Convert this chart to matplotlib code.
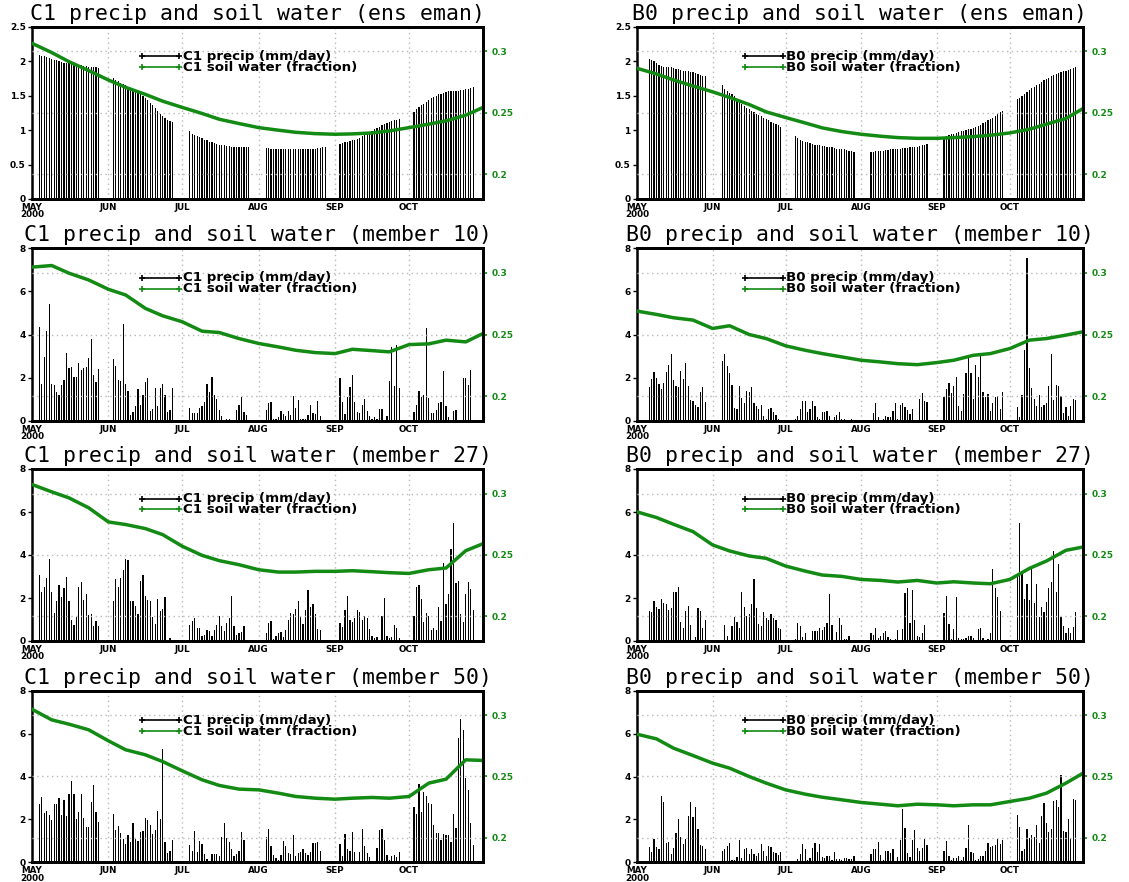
import numpy as np
import matplotlib.pyplot as plt

W, H = 1129, 882

MONTHS = ['MAY\n2000', 'JUN', 'JUL', 'AUG', 'SEP', 'OCT']
MONTH_START = [0, 31, 61, 92, 123, 153]
N_DAYS = 183

# first plotted day inside each month (days with no bar before it)
C1_FIRST = [3, 2, 3, 3, 2, 2]
B0_FIRST = [5, 4, 4, 4, 3, 3]

# soil water read at month starts and quarter points
SOIL_DAYS = [0, 8, 15, 23, 31, 38, 46, 53, 61, 69, 76, 84, 92, 100, 107, 115,
             123, 130, 138, 145, 153, 161, 168, 176, 183]

# ---------- ensemble mean ----------
C1_ENS_PRECIP = [
    [2.09, 2.08, 2.08, 2.06, 2.05, 2.03, 2.02, 2.01, 2.00, 1.99, 1.98, 1.98, 1.97,
     1.96, 1.95, 1.95, 1.94, 1.94, 1.93, 1.93, 1.92, 1.92, 1.91, 1.91, 1.90],
    [1.75, 1.73, 1.71, 1.69, 1.67, 1.65, 1.63, 1.61, 1.59, 1.57, 1.55, 1.52, 1.49,
     1.46, 1.43, 1.40, 1.36, 1.32, 1.28, 1.24, 1.20, 1.17, 1.15, 1.13, 1.12],
    [0.98, 0.95, 0.93, 0.92, 0.90, 0.88, 0.86, 0.85, 0.83, 0.82, 0.81, 0.80, 0.79,
     0.78, 0.78, 0.77, 0.77, 0.76, 0.76, 0.76, 0.75, 0.75, 0.75, 0.75, 0.75],
    [0.74, 0.74, 0.73, 0.73, 0.73, 0.73, 0.72, 0.73, 0.73, 0.73, 0.73, 0.73, 0.73,
     0.73, 0.73, 0.73, 0.73, 0.73, 0.73, 0.73, 0.73, 0.74, 0.74, 0.75, 0.75],
    [0.80, 0.81, 0.82, 0.83, 0.84, 0.85, 0.86, 0.87, 0.89, 0.91, 0.93, 0.95, 0.97,
     0.99, 1.01, 1.03, 1.05, 1.07, 1.09, 1.10, 1.12, 1.13, 1.14, 1.15, 1.16],
    [1.26, 1.30, 1.33, 1.36, 1.38, 1.41, 1.44, 1.46, 1.48, 1.50, 1.52, 1.53, 1.54,
     1.55, 1.56, 1.56, 1.57, 1.57, 1.57, 1.58, 1.58, 1.59, 1.60, 1.61, 1.62],
]
C1_ENS_SOIL = [0.3065, 0.2990, 0.2916, 0.2843, 0.2767, 0.2707, 0.2650, 0.2595,
               0.2544, 0.2495, 0.2448, 0.2413, 0.2380, 0.2359, 0.2342, 0.2331,
               0.2326, 0.2329, 0.2337, 0.2353, 0.2380, 0.2408, 0.2435, 0.2481, 0.2544]

B0_ENS_PRECIP = [
    [2.03, 2.01, 2.00, 1.97, 1.95, 1.93, 1.92, 1.92, 1.92, 1.91, 1.90, 1.89,
     1.88, 1.87, 1.85, 1.85, 1.85, 1.84, 1.84, 1.83, 1.82, 1.80, 1.79, 1.78],
    [1.65, 1.60, 1.57, 1.54, 1.52, 1.49, 1.45, 1.42, 1.38, 1.35, 1.32, 1.30, 1.28,
     1.26, 1.24, 1.22, 1.20, 1.18, 1.16, 1.14, 1.12, 1.10, 1.09, 1.07, 1.05],
    [0.91, 0.88, 0.86, 0.84, 0.83, 0.82, 0.81, 0.80, 0.79, 0.78, 0.78, 0.77, 0.77,
     0.76, 0.75, 0.75, 0.74, 0.73, 0.73, 0.72, 0.72, 0.71, 0.70, 0.69, 0.68],
    [0.68, 0.68, 0.69, 0.69, 0.70, 0.70, 0.71, 0.71, 0.72, 0.72, 0.72, 0.73,
     0.73, 0.74, 0.74, 0.74, 0.75, 0.75, 0.76, 0.76, 0.77, 0.78, 0.79, 0.80],
    [0.90, 0.92, 0.93, 0.94, 0.95, 0.96, 0.97, 0.98, 0.99, 1.00, 1.01, 1.02, 1.03,
     1.05, 1.06, 1.08, 1.10, 1.12, 1.14, 1.16, 1.18, 1.20, 1.23, 1.26, 1.28],
    [1.45, 1.47, 1.49, 1.52, 1.55, 1.58, 1.61, 1.63, 1.65, 1.67, 1.70, 1.72, 1.74,
     1.76, 1.78, 1.80, 1.82, 1.83, 1.84, 1.85, 1.86, 1.87, 1.89, 1.90, 1.92],
]
B0_ENS_SOIL = [0.2862, 0.2816, 0.2767, 0.2718, 0.2671, 0.2625, 0.2568, 0.2508,
               0.2462, 0.2418, 0.2378, 0.2348, 0.2326, 0.2310, 0.2299, 0.2293,
               0.2293, 0.2299, 0.2307, 0.2318, 0.2337, 0.2367, 0.2408, 0.2454, 0.2535]

# ---------- member 10 ----------
C1_M10_PRECIP = [
    [4.35, 1.70, 2.95, 4.15, 5.40, 1.70, 1.65, 1.35, 1.20, 1.65, 1.90, 3.15, 2.45,
     2.50, 2.05, 2.05, 2.70, 2.35, 2.45, 2.50, 2.90, 3.80, 2.10, 1.80, 2.40],
    [2.85, 2.55, 1.90, 1.85, 4.50, 1.70, 1.40, 0.25, 0.40, 0.70, 1.45, 0.75, 1.20,
     1.80, 2.00, 0.45, 0.55, 1.50, 0.70, 1.50, 1.70, 1.20, 0.40, 0.50, 1.50],
    [0.60, 0.35, 0.35, 0.35, 0.60, 0.70, 0.85, 1.70, 1.35, 2.05, 1.20, 1.00, 0.50,
     0.20, 0.05, 0.10, 0.10, 0.00, 0.00, 0.50, 0.75, 1.10, 0.40, 0.25, 0.05],
    [0.50, 0.80, 0.85, 0.10, 0.10, 0.15, 0.45, 0.30, 0.20, 0.45, 0.25, 1.15, 0.60,
     0.95, 0.10, 0.10, 0.10, 0.25, 0.75, 0.35, 0.30, 0.90, 0.20, 0.00, 0.00],
    [2.00, 0.85, 0.30, 1.10, 1.55, 2.10, 0.85, 0.40, 0.35, 0.75, 1.00, 0.45, 0.20,
     0.10, 0.15, 0.10, 0.55, 0.55, 0.00, 0.20, 1.85, 3.40, 1.60, 3.50, 1.50],
    [0.40, 0.75, 1.40, 1.10, 1.20, 4.30, 1.05, 0.35, 0.35, 0.50, 0.80, 0.85, 2.30,
     0.70, 0.15, 0.05, 0.45, 0.50, 0.00, 0.00, 2.00, 2.00, 1.65, 2.35, 0.00],
]
C1_M10_SOIL = [0.3047, 0.3060, 0.2998, 0.2943, 0.2867, 0.2821, 0.2712, 0.2652,
               0.2603, 0.2527, 0.2516, 0.2467, 0.2427, 0.2399, 0.2372, 0.2353,
               0.2345, 0.2380, 0.2369, 0.2359, 0.2418, 0.2424, 0.2454, 0.2440, 0.2508]

B0_M10_PRECIP = [
    [1.55, 1.95, 2.25, 2.00, 1.70, 1.45, 1.75, 2.25, 2.60, 3.10, 1.90, 1.60,
     1.55, 2.30, 1.95, 2.70, 1.60, 0.95, 0.90, 0.75, 0.65, 1.35, 1.55, 0.85],
    [2.75, 3.10, 2.55, 2.20, 1.65, 0.60, 0.55, 1.60, 1.05, 0.80, 1.40, 1.35, 1.55,
     0.80, 0.70, 0.55, 0.75, 0.20, 0.10, 0.55, 0.60, 0.40, 0.25, 0.10, 0.05],
    [0.10, 0.20, 0.55, 0.90, 0.90, 0.40, 0.55, 0.90, 0.70, 0.15, 0.10, 0.40, 0.40,
     0.45, 0.20, 0.05, 0.15, 0.25, 0.40, 0.10, 0.10, 0.05, 0.05, 0.10, 0.00],
    [0.05, 0.35, 0.80, 0.15, 0.05, 0.10, 0.20, 0.15, 0.15, 0.45, 0.80, 0.10,
     0.75, 0.80, 0.65, 0.50, 0.30, 0.55, 0.00, 0.05, 1.00, 1.30, 0.90, 0.85],
    [1.10, 1.45, 1.75, 1.30, 1.60, 2.05, 0.70, 0.45, 1.25, 2.20, 2.90, 2.20, 1.00,
     2.60, 2.05, 3.00, 1.35, 1.10, 1.25, 0.45, 0.80, 1.10, 1.15, 0.55, 1.35],
    [0.65, 0.15, 1.20, 3.30, 7.55, 2.45, 1.50, 1.00, 0.70, 1.20, 0.65, 0.75, 0.80,
     1.60, 3.10, 0.95, 1.65, 1.60, 1.15, 0.35, 0.65, 0.20, 0.70, 1.00, 0.95],
]
B0_M10_SOIL = [0.2690, 0.2663, 0.2636, 0.2617, 0.2549, 0.2571, 0.2500, 0.2467,
               0.2408, 0.2372, 0.2345, 0.2318, 0.2291, 0.2277, 0.2263, 0.2255,
               0.2272, 0.2291, 0.2331, 0.2345, 0.2386, 0.2454, 0.2467, 0.2495, 0.2522]

# ---------- member 27 ----------
C1_M27_PRECIP = [
    [3.05, 2.30, 2.50, 2.95, 3.80, 2.30, 1.30, 1.85, 2.60, 2.05, 2.45, 3.00, 1.85,
     1.00, 0.75, 1.10, 2.50, 2.75, 1.90, 2.20, 1.20, 1.25, 0.70, 0.95, 0.70],
    [1.85, 2.90, 2.50, 2.95, 3.30, 3.80, 3.75, 1.85, 1.85, 1.65, 1.25, 2.80, 3.05,
     2.10, 1.90, 1.85, 1.10, 0.80, 1.95, 1.40, 1.50, 2.05, 0.05, 0.15, 0.00],
    [0.75, 0.95, 1.05, 0.60, 0.60, 0.25, 0.30, 0.50, 0.45, 0.25, 0.50, 0.75, 1.15,
     0.70, 0.45, 0.85, 1.05, 2.10, 0.70, 0.30, 0.35, 0.40, 0.70, 0.00, 0.00],
    [0.35, 0.85, 0.95, 0.10, 0.25, 0.35, 0.40, 0.20, 0.50, 1.00, 1.30, 1.25, 1.50,
     1.85, 1.10, 0.80, 1.45, 2.35, 1.60, 1.70, 1.25, 0.55, 0.50, 0.00, 0.00],
    [0.85, 0.65, 1.45, 2.10, 1.00, 0.90, 1.05, 1.45, 1.35, 1.00, 1.15, 1.05, 0.55,
     0.25, 0.15, 0.20, 0.00, 1.15, 2.00, 0.25, 0.15, 0.20, 0.75, 0.60, 0.15],
    [1.15, 2.50, 2.60, 1.95, 0.90, 1.30, 1.15, 0.50, 0.60, 0.50, 1.60, 0.95, 3.65,
     1.70, 2.20, 4.30, 5.50, 2.70, 2.80, 1.25, 0.90, 2.20, 2.75, 2.40, 1.45],
]
C1_M27_SOIL = [0.3074, 0.3014, 0.2965, 0.2884, 0.2769, 0.2748, 0.2715, 0.2666,
               0.2571, 0.2497, 0.2454, 0.2421, 0.2380, 0.2361, 0.2361, 0.2367,
               0.2367, 0.2372, 0.2364, 0.2356, 0.2350, 0.2380, 0.2394, 0.2535, 0.2592]

B0_M27_PRECIP = [
    [1.40, 1.35, 1.85, 1.60, 1.50, 1.95, 1.75, 1.70, 1.45, 1.55, 2.30, 2.30,
     2.50, 0.90, 0.60, 1.40, 1.65, 0.75, 0.00, 0.20, 1.55, 1.40, 0.60, 1.00],
    [0.05, 0.75, 0.25, 0.05, 0.70, 1.10, 0.90, 0.60, 2.30, 1.60, 1.15, 1.25, 1.70,
     2.90, 1.55, 0.80, 0.70, 1.35, 1.05, 1.00, 1.25, 1.05, 1.00, 0.60, 0.55],
    [0.10, 0.85, 0.70, 0.20, 0.35, 0.00, 0.00, 0.45, 0.45, 0.45, 0.60, 0.50, 0.65,
     0.85, 2.20, 0.75, 0.05, 0.40, 1.05, 0.75, 0.10, 0.10, 0.25, 0.00, 0.00],
    [0.35, 0.30, 0.60, 0.15, 0.25, 0.35, 0.45, 0.20, 0.10, 0.05, 0.10, 0.50,
     0.00, 0.55, 2.25, 2.45, 0.85, 2.35, 1.00, 0.25, 0.20, 0.35, 0.75, 0.00],
    [1.30, 2.10, 0.80, 0.10, 0.55, 2.05, 0.15, 0.10, 0.10, 0.15, 0.25, 0.25, 0.15,
     0.00, 0.55, 0.60, 0.15, 0.00, 0.10, 0.35, 3.35, 2.45, 2.05, 1.40, 0.00],
    [3.00, 5.50, 3.10, 1.95, 2.65, 1.90, 3.50, 1.75, 2.65, 1.10, 1.60, 1.35, 1.80,
     2.45, 2.75, 4.20, 2.30, 3.60, 1.10, 0.70, 0.35, 0.60, 0.35, 0.65, 1.35],
]
B0_M27_SOIL = [0.2851, 0.2805, 0.2750, 0.2690, 0.2582, 0.2533, 0.2492, 0.2473,
               0.2410, 0.2369, 0.2337, 0.2326, 0.2301, 0.2293, 0.2280, 0.2293,
               0.2272, 0.2282, 0.2272, 0.2266, 0.2301, 0.2391, 0.2451, 0.2538, 0.2565]

# ---------- member 50 ----------
C1_M50_PRECIP = [
    [2.70, 3.05, 2.30, 2.40, 2.20, 1.95, 2.70, 2.70, 3.00, 2.20, 2.90, 2.15, 3.20,
     3.80, 3.20, 2.00, 2.35, 3.20, 2.05, 1.65, 1.65, 2.80, 3.60, 2.35, 1.90],
    [2.25, 1.50, 1.70, 1.35, 1.10, 0.85, 1.25, 0.95, 1.85, 1.10, 1.00, 1.40, 1.45,
     2.05, 1.95, 1.75, 1.30, 1.50, 2.40, 2.00, 5.30, 0.95, 0.45, 0.55, 1.05],
    [0.80, 0.55, 1.45, 0.50, 1.00, 0.85, 0.40, 0.15, 0.05, 0.40, 0.40, 0.40, 0.30,
     1.20, 1.85, 1.15, 0.95, 0.60, 0.30, 0.40, 0.55, 1.40, 1.05, 0.00, 0.00],
    [1.20, 1.55, 0.75, 0.35, 0.20, 0.10, 0.35, 1.00, 0.75, 0.45, 0.40, 1.25, 0.30,
     0.45, 0.50, 0.60, 0.45, 0.35, 0.50, 0.90, 0.90, 0.95, 0.55, 0.00, 0.00],
    [0.85, 0.30, 1.30, 0.60, 0.55, 1.40, 0.50, 0.05, 0.50, 1.55, 0.75, 0.45, 0.25,
     0.00, 0.00, 0.65, 1.50, 1.55, 1.05, 0.35, 0.10, 0.30, 0.35, 0.25, 0.50],
    [2.60, 2.25, 3.65, 2.35, 3.30, 3.10, 2.75, 2.70, 1.75, 1.35, 1.35, 1.05, 1.30,
     1.25, 1.25, 0.95, 2.25, 1.60, 5.80, 6.70, 6.15, 3.95, 3.35, 1.85, 0.80],
]
C1_M50_SOIL = [0.3049, 0.2962, 0.2927, 0.2881, 0.2791, 0.2718, 0.2677, 0.2622,
               0.2546, 0.2473, 0.2427, 0.2397, 0.2391, 0.2364, 0.2337, 0.2323,
               0.2315, 0.2323, 0.2329, 0.2323, 0.2337, 0.2446, 0.2478, 0.2636, 0.2631]

B0_M50_PRECIP = [
    [0.70, 0.50, 1.10, 0.70, 0.60, 3.10, 2.80, 0.90, 0.95, 0.40, 0.65, 1.35,
     2.00, 1.20, 0.85, 1.10, 2.15, 2.80, 2.10, 2.60, 1.55, 0.80, 0.75, 0.60],
    [0.55, 0.60, 0.75, 0.90, 0.10, 0.10, 0.25, 1.05, 0.20, 0.60, 0.65, 0.40, 0.60,
     0.40, 0.30, 0.45, 0.85, 0.55, 0.30, 0.75, 0.70, 0.50, 0.45, 0.35, 0.50],
    [0.05, 0.15, 0.40, 0.85, 0.60, 0.10, 0.20, 0.65, 0.90, 0.50, 0.85, 0.25, 0.20,
     0.30, 0.30, 0.10, 0.50, 0.15, 0.15, 0.10, 0.20, 0.20, 0.15, 0.15, 0.30],
    [0.40, 0.60, 0.60, 0.95, 0.35, 0.10, 0.55, 0.55, 0.45, 0.60, 0.00, 0.25,
     1.05, 2.50, 1.60, 0.45, 0.25, 1.05, 1.50, 0.65, 0.55, 0.65, 1.10, 0.80],
    [0.55, 1.00, 0.30, 0.10, 0.20, 0.20, 0.30, 0.10, 0.25, 0.65, 1.75, 0.50, 0.45,
     0.10, 0.15, 0.30, 0.30, 0.55, 0.90, 0.70, 0.75, 0.80, 1.10, 0.85, 1.05],
    [2.20, 1.65, 0.55, 0.60, 1.55, 1.15, 1.25, 1.20, 1.75, 0.90, 2.15, 2.75, 1.85,
     1.40, 1.55, 2.85, 2.90, 2.60, 4.05, 1.45, 1.40, 2.00, 1.15, 2.95, 2.90],
]
B0_M50_SOIL = [0.2845, 0.2807, 0.2731, 0.2671, 0.2609, 0.2568, 0.2500, 0.2446,
               0.2391, 0.2356, 0.2331, 0.2310, 0.2288, 0.2274, 0.2261, 0.2274,
               0.2269, 0.2261, 0.2269, 0.2269, 0.2296, 0.2323, 0.2364, 0.2446, 0.2527]

SOIL_LIM = (0.18, 0.32)
SOIL_TICKS = [0.2, 0.25, 0.3]
GREEN = '#138a13'
GRID = '#b8b8b8'
MONO = 'DejaVu Sans Mono'


def axes_rect(x0, x1, ytop, ybot):
    return [x0 / W, 1 - ybot / H, (x1 - x0) / W, (ybot - ytop) / H]


def draw_panel(fig, rect, model, tag, precip, first, soil, ytop, yticks, ylabels):
    ax = fig.add_axes(rect)
    for m, vals in enumerate(precip):
        days = MONTH_START[m] + first[m] + np.arange(len(vals))
        ax.bar(days, vals, width=0.5, color='black', linewidth=0)
    ax.set_xlim(0, N_DAYS)
    ax.set_ylim(0, ytop)
    ax.set_yticks(yticks)
    ax.set_yticklabels(ylabels)
    ax.set_xticks(MONTH_START)
    ax.set_xticklabels(MONTHS, linespacing=0.8)
    ax.tick_params(axis='y', labelsize=6.5, length=3, width=1, pad=1.5)
    ax.tick_params(axis='x', labelsize=6.3, length=0, pad=2.8)
    for t in ax.get_xticklabels() + ax.get_yticklabels():
        t.set_fontweight('bold')
    for d in MONTH_START[1:]:
        ax.axvline(d, color=GRID, lw=1, ls=(0, (1, 2.5)), zorder=0)
    for s in ['top', 'bottom', 'right']:
        ax.spines[s].set_linewidth(2)
    ax.spines['left'].set_linewidth(1.8)
    ax.spines['left'].set_linestyle((0, (1, 1)))

    ax2 = ax.twinx()
    ax2.plot(SOIL_DAYS, soil, color=GREEN, lw=2.5, solid_capstyle='round')
    ax2.set_ylim(*SOIL_LIM)
    ax2.set_yticks(SOIL_TICKS)
    ax2.set_yticklabels(['0.2', '0.25', '0.3'])
    ax2.tick_params(axis='y', colors=GREEN, labelsize=6.5, length=3, width=1.2, pad=3)
    for t in ax2.get_yticklabels():
        t.set_fontweight('bold')
    ax2.grid(axis='y', color=GRID, lw=1, ls=(0, (1, 2.5)))
    ax2.set_xlim(0, N_DAYS)
    for s in ['top', 'bottom', 'right']:
        ax2.spines[s].set_linewidth(2)
    ax2.spines['left'].set_visible(False)

    # legend drawn in axes fraction
    lx0, lx1, tx = 0.243, 0.327, 0.334
    ax2.plot([lx0, lx1], [0.828, 0.828], color='black', lw=1.2, marker='+', ms=5,
             mew=1.2, transform=ax2.transAxes)
    ax2.plot([lx0, lx1], [0.765, 0.765], color=GREEN, lw=1.2, marker='+', ms=5,
             mew=1.2, transform=ax2.transAxes)
    ax2.text(tx, 0.7965, f'{model} precip (mm/day)\n{model} soil water (fraction)',
             transform=ax2.transAxes, fontsize=9.6, fontweight='bold',
             va='center', ha='left', color='black', linespacing=0.8)

    cx = rect[0] + rect[2] / 2
    ty = rect[1] + rect[3] + 13 / H
    fig.text(cx, ty, f'{model} precip and soil water ({tag})', ha='center',
             va='center', fontsize=15.5, family=MONO)
    return ax


fig = plt.figure(figsize=(W / 100, H / 100), dpi=100)

LEFT = (32, 483)
RIGHT = (637, 1083)
ROWS = [(26.7, 199), (248.3, 420.7), (469, 641), (690.7, 862.3)]

ENS_TICKS = [0, 0.5, 1, 1.5, 2, 2.5]
ENS_LABELS = ['0', '0.5', '1', '1.5', '2', '2.5']
MEM_TICKS = [0, 2, 4, 6, 8]
MEM_LABELS = ['0', '2', '4', '6', '8']

panels = [
    ('ens eman', C1_ENS_PRECIP, C1_ENS_SOIL, B0_ENS_PRECIP, B0_ENS_SOIL, 2.5, ENS_TICKS, ENS_LABELS),
    ('member 10', C1_M10_PRECIP, C1_M10_SOIL, B0_M10_PRECIP, B0_M10_SOIL, 8, MEM_TICKS, MEM_LABELS),
    ('member 27', C1_M27_PRECIP, C1_M27_SOIL, B0_M27_PRECIP, B0_M27_SOIL, 8, MEM_TICKS, MEM_LABELS),
    ('member 50', C1_M50_PRECIP, C1_M50_SOIL, B0_M50_PRECIP, B0_M50_SOIL, 8, MEM_TICKS, MEM_LABELS),
]

for row, p in zip(ROWS, panels):
    tag, c1p, c1s, b0p, b0s, ytop, yt, yl = p
    draw_panel(fig, axes_rect(LEFT[0], LEFT[1], *row), 'C1', tag, c1p, C1_FIRST,
               c1s, ytop, yt, yl)
    draw_panel(fig, axes_rect(RIGHT[0], RIGHT[1], *row), 'B0', tag, b0p, B0_FIRST,
               b0s, ytop, yt, yl)

fig.savefig('out.png', dpi=100)
